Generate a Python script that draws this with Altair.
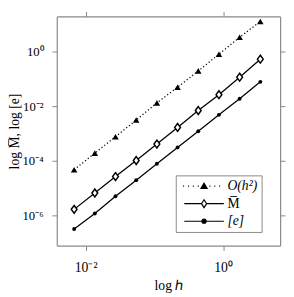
import altair as alt
import pandas as pd

# step size h and the three error measures
h = [0.0068, 0.0136, 0.0272, 0.0544, 0.1088, 0.2175, 0.435, 0.87, 1.74, 3.48]
o_h2 = [4.68e-5, 1.91e-4, 7.59e-4, 3.09e-3, 1.32e-2, 4.90e-2, 0.195, 0.794, 3.31, 12.6]
m_bar = [1.66e-6, 6.61e-6, 2.63e-5, 1.02e-4, 4.07e-4, 1.66e-3, 6.92e-3, 2.63e-2, 0.115, 0.525]
e_err = [3.16e-7, 1.17e-6, 5.01e-6, 1.95e-5, 7.76e-5, 3.09e-4, 1.20e-3, 4.79e-3, 1.86e-2, 7.76e-2]

series_names = ["O(h²)", "M̅", "[e]"]
x_ticks = [0.01, 1.0]
y_ticks = [1e-6, 1e-4, 1e-2, 1.0]

rows = []
for name, vals in zip(series_names, [o_h2, m_bar, e_err]):
    for hv, v in zip(h, vals):
        rows.append({"h": hv, "v": v, "series": name})
df = pd.DataFrame(rows)

FONT = "Liberation Serif"
xdom = [10 ** -2.42, 10 ** 0.83]
ydom = [10 ** -7.107, 10 ** 1.286]

xs = alt.Scale(type="log", domain=xdom)
ys = alt.Scale(type="log", domain=ydom)

xlab = "datum.value >= 0.5 ? '10⁰' : '10⁻²'"
ylab = ("datum.value >= 0.5 ? '10⁰' : datum.value >= 0.005 ? '10⁻²' : "
        "datum.value >= 5e-5 ? '10⁻⁴' : '10⁻⁶'")

x_bottom = alt.X("h:Q", scale=xs, axis=alt.Axis(
    values=x_ticks, labelExpr=xlab, title="log ℎ", labelPadding=11,
    titleY=41, titleBaseline="middle"))
y_left = alt.Y("v:Q", scale=ys, axis=alt.Axis(
    values=y_ticks, labelExpr=ylab, title="log M̅, log [e]", labelPadding=9,
    labelFontSize=13, titleX=-43, titleBaseline="middle"))
x_none = alt.X("h:Q", scale=xs, axis=None)
y_none = alt.Y("v:Q", scale=ys, axis=None)
x_top = alt.X("h:Q", scale=xs, axis=alt.Axis(
    orient="top", values=x_ticks, labels=False, title=None))
y_right = alt.Y("v:Q", scale=ys, axis=alt.Axis(
    orient="right", values=y_ticks, labels=False, title=None))

base = alt.Chart(df)

line_o = base.transform_filter(alt.datum.series == series_names[0]).mark_line(
    color="black", strokeWidth=1.3, strokeDash=[1.2, 2.4]
).encode(x=x_bottom, y=y_left)
line_m = base.transform_filter(alt.datum.series == series_names[1]).mark_line(
    color="black", strokeWidth=1.3
).encode(x=x_none, y=y_none)
line_e = base.transform_filter(alt.datum.series == series_names[2]).mark_line(
    color="black", strokeWidth=1.3
).encode(x=x_none, y=y_none)

pts_o = base.transform_filter(alt.datum.series == series_names[0]).mark_point(
    shape="triangle-up", filled=True, color="black", size=44, opacity=1
).encode(x=x_none, y=y_none)
pts_m = base.transform_filter(alt.datum.series == series_names[1]).mark_point(
    shape="M0,-1.15L0.85,0L0,1.15L-0.85,0Z", fill="white", stroke="black",
    strokeWidth=1.5, size=49, opacity=1, filled=False, fillOpacity=1
).encode(x=x_none, y=y_none)
pts_e = base.transform_filter(alt.datum.series == series_names[2]).mark_point(
    shape="circle", filled=True, color="black", size=16, opacity=1
).encode(x=x_none, y=y_none)

# legend symbols: line segment + marker as one path each
def dots(xs_):
    return "".join(f"M{x - 0.15:.2f},0L{x + 0.15:.2f},0" for x in xs_)

leg_o = dots([-6.0, -4.57, -3.14, -1.71, 1.71, 3.14, 4.57]) + "M0,-0.85L0.9,0.65L-0.9,0.65Z"
leg_m = "M-5.8,0L-0.75,0M0.75,0L5.8,0M0,-1.15L0.75,0L0,1.15L-0.75,0Z"
leg_e = "M-5.8,0L-0.6,0M0.6,0L5.8,0M0.6,0A0.6,0.6,0,1,1,-0.6,0A0.6,0.6,0,1,1,0.6,0Z"

legend = alt.Legend(
    title=None, orient="none", legendX=122, legendY=163, padding=4,
    strokeColor="#888", fillColor="white", symbolSize=49,
    symbolOffset=18, labelOffset=17, rowPadding=4,
    labelFont=FONT, labelFontSize=14, symbolStrokeWidth=1.2,
    symbolOpacity=1,
    labelFontStyle={"expr": "datum.label == 'M̅' ? 'normal' : 'italic'"},
)

leg_layer = base.mark_point(opacity=0, strokeWidth=1.2).encode(
    x=x_top, y=y_right,
    shape=alt.Shape("series:N", scale=alt.Scale(domain=series_names, range=[leg_o, leg_m, leg_e]), legend=legend),
    fill=alt.Fill("series:N", scale=alt.Scale(domain=series_names, range=["black", "white", "black"]), legend=legend),
    stroke=alt.Stroke("series:N", scale=alt.Scale(domain=series_names, range=["black", "black", "black"]), legend=legend),
)

chart = alt.layer(line_o, line_m, line_e, pts_o, pts_m, pts_e, leg_layer).resolve_axis(
    x="independent", y="independent"
).properties(
    width=229, height=235,
    autosize=alt.AutoSizeParams(type="none"),
    padding={"left": 50, "top": 5, "right": 6, "bottom": 46},
).configure_view(stroke=None).configure_axis(
    domainColor="#888", tickColor="#888", tickSize=5, grid=False,
    labelFont=FONT, titleFont=FONT, labelFontSize=14, titleFontSize=14,
    titleFontWeight="normal", labelColor="black", titleColor="black",
    domainWidth=1.2,
)

chart.save("out.html", embed_options={"renderer": "svg", "actions": False})
